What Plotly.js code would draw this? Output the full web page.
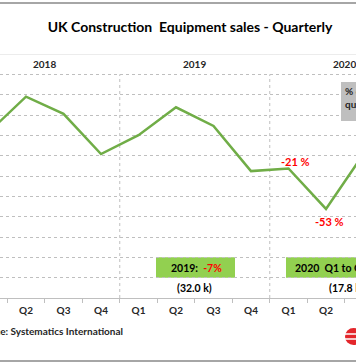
<!DOCTYPE html>
<html>
<head>
<meta charset="utf-8">
<script src="https://cdn.plot.ly/plotly-3.0.1.min.js"></script>
<style>
html,body{margin:0;padding:0;background:#fff;overflow:hidden;}
#chart{width:356px;height:364px;}
</style>
</head>
<body>
<div id="chart"></div>
<script>
// ---- data ----
var categories = ["2018 Q1","2018 Q2","2018 Q3","2018 Q4","2019 Q1","2019 Q2","2019 Q3","2019 Q4","2020 Q1","2020 Q2","2020 Q3"];
var quarterLabels = ["Q1","Q2","Q3","Q4","Q1","Q2","Q3","Q4","Q1","Q2","Q3"];
var sales = [8.15, 9.90, 9.06, 7.08, 8.01, 9.38, 8.46, 6.24, 6.37, 4.38, 7.08]; // thousand units
var years = ["2018","2019","2020"];
var yearCenters = [1.5, 5.5, 9.5];
var yearBoundaries = [3.5, 7.5];
var changeCats = ["2020 Q1","2020 Q2"];
var changeLabels = ["-21 %","-53 %"];

// ---- layout helpers (pixels -> paper) ----
var W = 356, H = 364, T = 54, B = 66;
var PH = H - T - B;
function pxX(p){ return p / W; }
function pxY(p){ return (H - B - p) / PH; }

var FONT = "Lato, 'Open Sans', sans-serif";
var GRID = "#bfbfbf";

var trace = {
  x: categories, y: sales, type: "scatter", mode: "lines",
  line: {color: "#70ad47", width: 2.5}, hoverinfo: "skip"
};

var annotations = [];
years.forEach(function(y, i){
  annotations.push({x: yearCenters[i], y: 11.5, xref: "x", yref: "y", xanchor: "center", yanchor: "middle",
    text: "<b>" + y + "</b>", showarrow: false, font: {family: FONT, size: 10, color: "#262626"}});
});
var shifts = [[7, 7], [3, -13]];
changeCats.forEach(function(c, i){
  var idx = categories.indexOf(c);
  annotations.push({x: idx, y: sales[idx], xref: "x", yref: "y", xanchor: "center", yanchor: "middle",
    text: "<b>" + changeLabels[i] + "</b>",
    showarrow: false, xshift: shifts[i][0], yshift: shifts[i][1],
    font: {family: FONT, size: 11, color: "#ff0000"}});
});
// cropped change label for Q3 2020 at the edge
annotations.push({x: pxX(354), y: pxY(127), xref: "paper", yref: "paper", xanchor: "left", yanchor: "middle",
  text: "<b>-16 %</b>", showarrow: false, font: {family: FONT, size: 11, color: "#ff0000"}});
// summary boxes text
annotations.push({x: pxX(196), y: 1.5, xref: "paper", yref: "y", xanchor: "center", yanchor: "middle", showarrow: false,
  text: "<b>2019:\u00a0\u00a0<span style='color:#ff0000'>-7%</span></b>", font: {family: FONT, size: 10.5, color: "#000"}});
annotations.push({x: pxX(293), y: 1.5, xref: "paper", yref: "y", xanchor: "left", yanchor: "middle", showarrow: false,
  text: "<b>2020\u00a0\u00a0Q1 to Q3:\u00a0\u00a0<span style='color:#ff0000'>-31%</span></b>", font: {family: FONT, size: 10.5, color: "#000"}});
annotations.push({x: pxX(195), y: 0.5, xref: "paper", yref: "y", xanchor: "center", yanchor: "middle", showarrow: false,
  text: "<b>(32.0 k)</b>", font: {family: FONT, size: 10.5, color: "#000"}});
annotations.push({x: pxX(327), y: 0.5, xref: "paper", yref: "y", xanchor: "left", yanchor: "middle", showarrow: false,
  text: "<b>(17.8 k)</b>", font: {family: FONT, size: 10.5, color: "#000"}});
// grey note box text
annotations.push({x: pxX(343), y: pxY(83), xref: "paper", yref: "paper", xanchor: "left", yanchor: "top", align: "left",
  showarrow: false, text: "<b>% change vs<br>quarter 2019</b>", font: {family: FONT, size: 10, color: "#262626"}});
// source
annotations.push({x: pxX(125), y: pxY(331), xref: "paper", yref: "paper", xanchor: "right", yanchor: "middle", showarrow: false,
  text: "<b>Source: Systematics International</b>", font: {family: FONT, size: 10, color: "#262626"}});

var shapes = [];
shapes.push({type: "line", xref: "paper", yref: "paper", x0: 0, x1: 1, y0: pxY(3), y1: pxY(3), line: {color: "#a6a6a6", width: 2}});
shapes.push({type: "line", xref: "paper", yref: "paper", x0: 0, x1: 1, y0: pxY(361), y1: pxY(361), line: {color: "#a6a6a6", width: 2}});
shapes.push({type: "line", xref: "paper", yref: "y", x0: 0, x1: 1, y0: 12, y1: 12, line: {color: "#d9d9d9", width: 1}});
yearBoundaries.forEach(function(b){
  shapes.push({type: "line", xref: "x", yref: "y", x0: b, x1: b, y0: 0, y1: 11, line: {color: GRID, width: 1, dash: "dot"}, layer: "below"});
});
// green boxes
shapes.push({type: "rect", xref: "paper", yref: "y", x0: pxX(156), x1: pxX(235), y0: 1, y1: 2, fillcolor: "#92d050", line: {width: 0}, layer: "below"});
shapes.push({type: "rect", xref: "paper", yref: "y", x0: pxX(286), x1: pxX(440), y0: 1, y1: 2, fillcolor: "#92d050", line: {width: 0}, layer: "below"});
// grey note box
shapes.push({type: "rect", xref: "paper", yref: "paper", x0: pxX(341), x1: pxX(420), y0: pxY(121), y1: pxY(82), fillcolor: "#bfbfbf", line: {width: 0}});
// logo
shapes.push({type: "circle", xref: "paper", yref: "paper", x0: pxX(345), x1: pxX(362), y0: pxY(345), y1: pxY(328), fillcolor: "#e3262b", line: {width: 0}});
shapes.push({type: "line", xref: "paper", yref: "paper", x0: pxX(345), x1: pxX(362), y0: pxY(334), y1: pxY(334), line: {color: "#fff", width: 1.5}});
shapes.push({type: "line", xref: "paper", yref: "paper", x0: pxX(345), x1: pxX(362), y0: pxY(339), y1: pxY(339), line: {color: "#fff", width: 1.5}});

var layout = {
  width: W, height: H,
  margin: {l: 0, r: 0, t: T, b: B, pad: 0},
  paper_bgcolor: "#fff", plot_bgcolor: "#fff",
  showlegend: false,
  title: {text: "<b>UK Construction\u00a0\u00a0Equipment sales - Quarterly</b>", xref: "container", yref: "container",
    x: 190 / W, y: 1 - 27 / H, xanchor: "center", yanchor: "middle",
    font: {family: FONT, size: 14, color: "#000"}},
  xaxis: {type: "category", categoryorder: "array", categoryarray: categories,
    range: [0.3067, 9.8], tickmode: "array", tickvals: categories,
    ticktext: quarterLabels.map(function(q){ return "<b>" + q + "</b>"; }),
    tickson: "boundaries", ticks: "outside", ticklen: 4, tickcolor: GRID, ticklabelstandoff: 3,
    showline: true, linecolor: GRID, linewidth: 1, showgrid: false, zeroline: false,
    tickfont: {family: FONT, size: 10, color: "#262626"}, fixedrange: true},
  yaxis: {range: [0, 12], dtick: 1, showgrid: true, gridcolor: GRID, griddash: "dot", gridwidth: 1,
    showticklabels: false, zeroline: false, showline: false, ticks: "", fixedrange: true},
  annotations: annotations,
  shapes: shapes
};
Plotly.newPlot("chart", [trace], layout, {staticPlot: true, displayModeBar: false});
</script>
</body>
</html>
